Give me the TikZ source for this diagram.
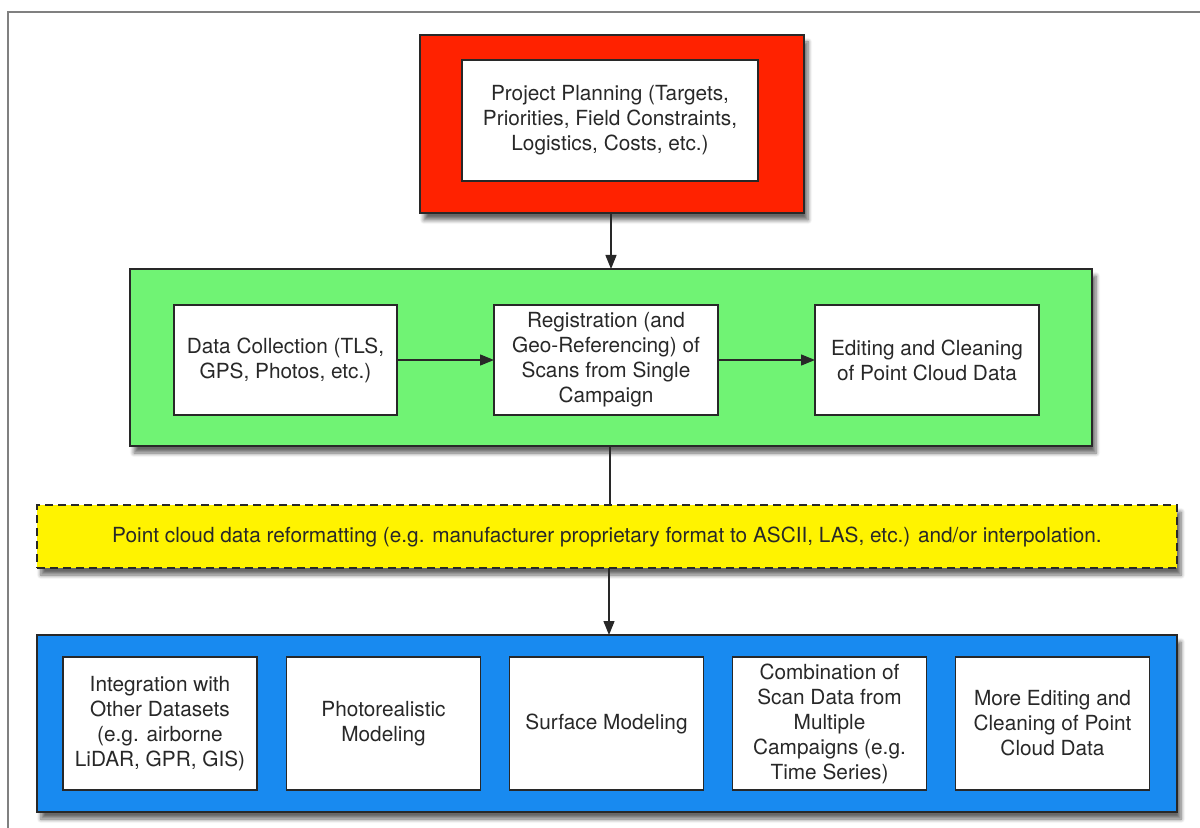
\documentclass[tikz,border=0pt]{standalone}
\usepackage{fontspec}
\setmainfont{TeX Gyre Heros}
\usepackage{xcolor}
\usetikzlibrary{positioning, arrows.meta, calc, shadows.blur}

\definecolor{planred}{RGB}{255,34,0}
\definecolor{fieldgreen}{RGB}{112,243,116}
\definecolor{formatyellow}{RGB}{255,243,0}
\definecolor{resultblue}{RGB}{24,138,240}
\definecolor{inkgray}{RGB}{40,40,40}

\begin{document}
\begin{tikzpicture}[
  x=0.5pt, y=-0.5pt,
  stage/.style={draw=inkgray, line width=0.6pt, inner sep=0pt, outer sep=0pt,
    blur shadow={shadow xshift=2pt, shadow yshift=-3.5pt, shadow opacity=60,
      shadow blur steps=6}},
  taskbox/.style={draw=inkgray, line width=0.6pt, fill=white, inner sep=0pt,
    outer sep=0pt, align=center, text=inkgray, font=\fontsize{10.4}{12.5}\selectfont},
  flow/.style={-{Triangle[length=7pt, width=5.5pt]}, inkgray, line width=0.7pt},
  link/.style={inkgray, line width=0.7pt},
]

\useasboundingbox (0,0) rectangle (1200,828);

%% page frame
\draw[gray, line width=1pt] (8,850) |- (1220,12);

%% project planning
\node[stage, fill=planred, minimum width=192pt, minimum height=89pt] (plan) at (612,124) {};
\node[taskbox, minimum width=148pt, minimum height=60.5pt] (planning) at (610,120.5)
  {Project Planning (Targets,\\Priorities, Field Constraints,\\Logistics, Costs, etc.)};

%% field campaign
\node[stage, fill=fieldgreen, minimum width=481pt, minimum height=88.5pt] (campaign) at (611,357.5) {};
\node[taskbox, minimum width=111.5pt, minimum height=55pt] (collect) at (285.5,360)
  {Data Collection (TLS,\\GPS, Photos, etc.)};
\node[taskbox, minimum width=112pt, minimum height=55pt] (register) at (606,360)
  {Registration (and\\Geo-Referencing) of\\Scans from Single\\Campaign};
\node[taskbox, minimum width=112pt, minimum height=55pt] (clean) at (927,360)
  {Editing and Cleaning\\of Point Cloud Data};

\draw[flow] (collect.east) -- (register.west);
\draw[flow] (register.east) -- (clean.west);

%% reformatting
\node[stage, dashed, dash pattern=on 4pt off 2.5pt, fill=formatyellow,
  minimum width=570pt, minimum height=31.5pt, text=inkgray,
  font=\fontsize{10.4}{12.5}\selectfont] (reformat) at (607,536.5)
  {Point cloud data reformatting (e.g. manufacturer proprietary format to ASCII, LAS, etc.) and/or interpolation.};

%% products
\node[stage, fill=resultblue, minimum width=570pt, minimum height=88.5pt] (results) at (607,723.5) {};
\node[taskbox, minimum width=97pt, minimum height=66.5pt] (integrate) at (160,723.5)
  {Integration with\\Other Datasets\\(e.g. airborne\\LiDAR, GPR, GIS)};
\node[taskbox, minimum width=97pt, minimum height=66.5pt] (photo) at (383.5,723.5)
  {Photorealistic\\Modeling};
\node[taskbox, minimum width=97pt, minimum height=66.5pt] (surface) at (606.5,723.5)
  {Surface Modeling};
\node[taskbox, minimum width=97pt, minimum height=66.5pt] (combine) at (829.5,723.5)
  {Combination of\\Scan Data from\\Multiple\\Campaigns (e.g.\\Time Series)};
\node[taskbox, minimum width=97pt, minimum height=66.5pt] (recleaning) at (1052.5,723.5)
  {More Editing and\\Cleaning of Point\\Cloud Data};

%% stage to stage
\draw[flow] (plan.south -| 611,0) -- (campaign.north -| 611,0);
\draw[link] (campaign.south -| 610,0) -- (reformat.north -| 610,0);
\draw[flow] (reformat.south -| 609,0) -- (results.north -| 609,0);

\end{tikzpicture}
\end{document}
